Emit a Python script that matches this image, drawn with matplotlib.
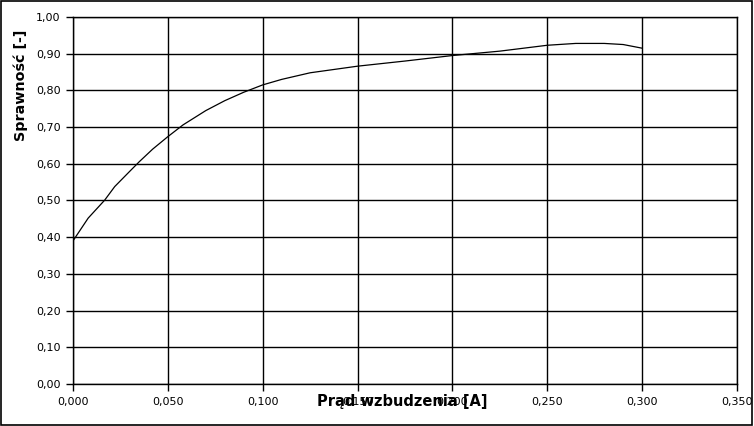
import numpy as np
import matplotlib.pyplot as plt
from matplotlib.ticker import FuncFormatter, MultipleLocator
from matplotlib.patches import Rectangle

# excitation current [A] and efficiency [-]
prad = [0.0, 0.008, 0.0167, 0.022, 0.03, 0.035, 0.042, 0.05, 0.058, 0.07, 0.08, 0.09, 0.10,
        0.11, 0.125, 0.15, 0.175, 0.20, 0.225, 0.25, 0.265, 0.28, 0.29, 0.30]
sprawnosc = [0.39, 0.452, 0.501, 0.538, 0.58, 0.606, 0.64, 0.674, 0.706, 0.745, 0.772, 0.795, 0.815,
             0.83, 0.848, 0.866, 0.88, 0.895, 0.907, 0.923, 0.928, 0.928, 0.925, 0.915]

fig = plt.figure(figsize=(7.54, 4.26), dpi=100)
ax = fig.add_axes([73/754, 1 - 384/426, 664/754, 367/426])

ax.plot(prad, sprawnosc, color='black', lw=0.9)

ax.set_xlim(0, 0.35)
ax.set_ylim(0, 1.0)
ax.xaxis.set_major_locator(MultipleLocator(0.05))
ax.yaxis.set_major_locator(MultipleLocator(0.1))
ax.xaxis.set_major_formatter(FuncFormatter(lambda v, p: f"{v:.3f}".replace('.', ',')))
ax.yaxis.set_major_formatter(FuncFormatter(lambda v, p: f"{v:.2f}".replace('.', ',')))
ax.grid(True, color='black', lw=1)
ax.tick_params(direction='out', length=5, width=1, labelsize=8, pad=4, colors='black')
for s in ax.spines.values():
    s.set_linewidth(1)

ax.set_xlabel('Prąd wzbudzenia [A]', fontsize=10.5, fontweight='bold')
ax.xaxis.set_label_coords(0.496, -0.049)
ax.xaxis.label.set_va('center')
ax.set_ylabel('Sprawność [-]', fontsize=10.3, fontweight='bold')
ax.yaxis.set_label_coords(-0.078, 0.813)
ax.yaxis.label.set_va('center')

fig.patches.append(Rectangle((0.001, 0.002), 0.997, 0.995, transform=fig.transFigure,
                             fill=False, edgecolor='black', lw=1.2))

fig.savefig('out.png', dpi=100)
